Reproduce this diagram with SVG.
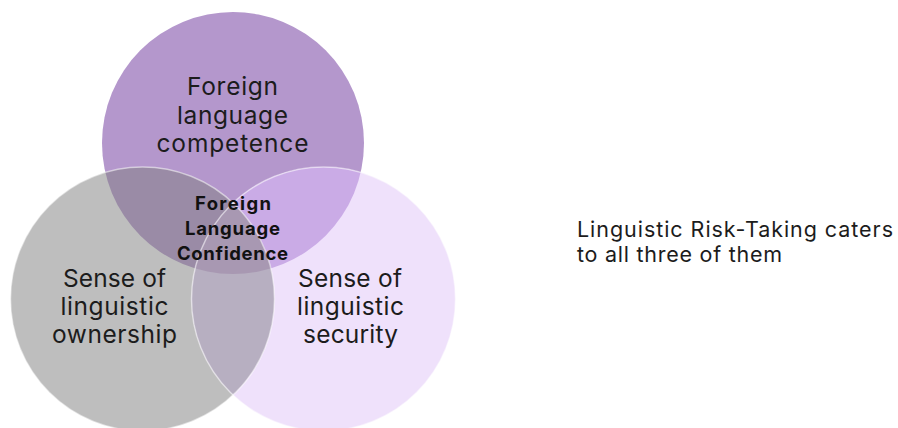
<svg xmlns="http://www.w3.org/2000/svg" width="898" height="428" viewBox="0 0 898 428">
<style>
.t{font-family:Inter,"Noto Sans","Liberation Sans",sans-serif;font-size:24.5px;fill:#1c1c1c;text-anchor:middle}
.b{font-family:Inter,"Noto Sans","Liberation Sans",sans-serif;font-size:18.5px;font-weight:700;fill:#111;text-anchor:middle}
.r{font-family:Inter,"Noto Sans","Liberation Sans",sans-serif;font-size:21.5px;fill:#1c1c1c}
.edge{fill:none;stroke:#ffffff;stroke-opacity:0.5;stroke-width:1.5}
</style>
<defs>
<clipPath id="cB"><circle cx="142.5" cy="299" r="132"/></clipPath>
<clipPath id="cC"><circle cx="323.5" cy="299" r="132"/></clipPath>
</defs>
<rect width="898" height="428" fill="#ffffff"/>
<g id="competence">
<circle cx="233" cy="143" r="131" fill="#b497cc"/>
</g>
<g id="ownership">
<circle cx="142.5" cy="299" r="132" fill="#bebebe"/>
</g>
<g id="security">
<circle cx="323.5" cy="299" r="132" fill="#efe1fb"/>
</g>
<g id="overlaps">
<circle cx="233" cy="143" r="131" fill="#9a8ba6" clip-path="url(#cB)"/>
<circle cx="233" cy="143" r="131" fill="#caabe6" clip-path="url(#cC)"/>
<circle cx="142.5" cy="299" r="132" fill="#b7afc1" clip-path="url(#cC)"/>
<g clip-path="url(#cB)"><circle cx="233" cy="143" r="131" fill="#a898b2" clip-path="url(#cC)"/></g>
</g>
<g id="edges">
<circle class="edge" cx="142.5" cy="299" r="132"/>
<circle class="edge" cx="323.5" cy="299" r="132"/>
</g>
<g id="labels">
<text class="t" x="232.5" y="95" textLength="91" lengthAdjust="spacing">Foreign</text>
<text class="t" x="232.5" y="123.5" textLength="111" lengthAdjust="spacing">language</text>
<text class="t" x="232.5" y="152" textLength="152" lengthAdjust="spacing">competence</text>
<text class="t" x="114.5" y="287" textLength="103" lengthAdjust="spacing">Sense of</text>
<text class="t" x="114.5" y="315" textLength="108" lengthAdjust="spacing">linguistic</text>
<text class="t" x="114.5" y="343" textLength="125" lengthAdjust="spacing">ownership</text>
<text class="t" x="350" y="287" textLength="104" lengthAdjust="spacing">Sense of</text>
<text class="t" x="350.5" y="315" textLength="107" lengthAdjust="spacing">linguistic</text>
<text class="t" x="350.5" y="343" textLength="95" lengthAdjust="spacing">security</text>
</g>
<g id="center">
<text class="b" x="233" y="210" textLength="76" lengthAdjust="spacing">Foreign</text>
<text class="b" x="232.5" y="235" textLength="95" lengthAdjust="spacing">Language</text>
<text class="b" x="232.5" y="260" textLength="111" lengthAdjust="spacing">Confidence</text>
</g>
<g id="note">
<text class="r" x="577" y="237" textLength="316" lengthAdjust="spacing">Linguistic Risk-Taking caters</text>
<text class="r" x="577" y="262" textLength="205" lengthAdjust="spacing">to all three of them</text>
</g>
</svg>
